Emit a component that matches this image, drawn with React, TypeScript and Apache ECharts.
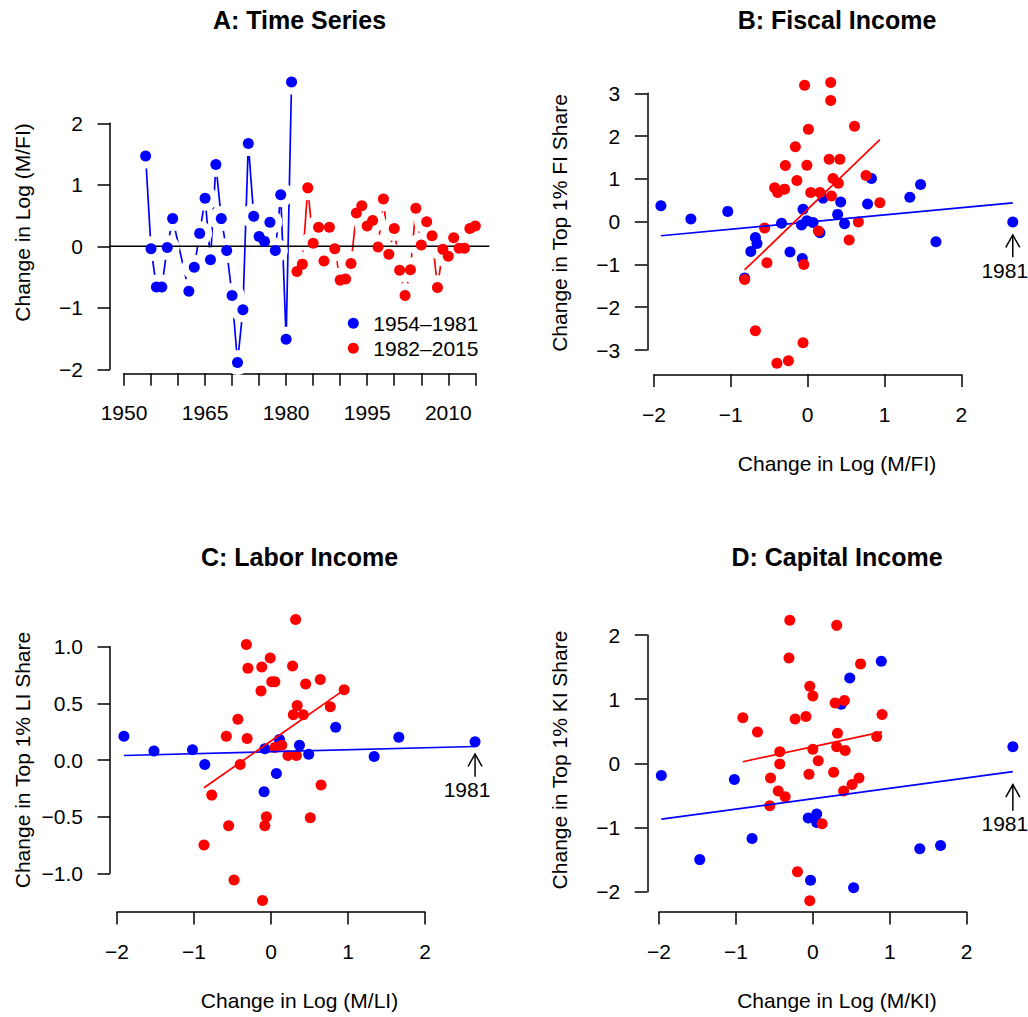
import React, { useEffect, useRef } from "react";
import * as echarts from "echarts";

const FONT = "'Liberation Sans', Arial, Helvetica, sans-serif";
const BLUE = "#0000FF";
const RED = "#FF0000";

// ---------- Panel A: time series ----------
const blueYears = [1954, 1955, 1956, 1957, 1958, 1959, 1962, 1963, 1964, 1965, 1966, 1967, 1968, 1969, 1970, 1971, 1972, 1973, 1974, 1975, 1976, 1977, 1978, 1979, 1980, 1981];
const blueA = [1.47, -0.04, -0.66, -0.66, -0.02, 0.45, -0.73, -0.34, 0.21, 0.78, -0.22, 1.33, 0.45, -0.07, -0.80, -1.89, -1.03, 1.67, 0.49, 0.16, 0.08, 0.39, -0.07, 0.84, -1.51, 2.67];
const redYears = [1982, 1983, 1984, 1985, 1986, 1987, 1988, 1989, 1990, 1991, 1992, 1993, 1994, 1995, 1996, 1997, 1998, 1999, 2000, 2001, 2002, 2003, 2004, 2005, 2006, 2007, 2008, 2009, 2010, 2011, 2012, 2013, 2014, 2015];
const redA = [-0.41, -0.29, 0.95, 0.05, 0.31, -0.24, 0.31, -0.04, -0.55, -0.53, -0.28, 0.54, 0.66, 0.33, 0.42, -0.01, 0.77, -0.13, 0.29, -0.39, -0.80, -0.38, 0.62, 0.02, 0.40, 0.17, -0.67, -0.05, -0.16, 0.14, -0.03, -0.03, 0.29, 0.33];
const usrAx = [1947.4, 2017.6];

// ---------- Panel B: fiscal income ----------
const blueBx = [-1.91, -1.52, -1.04, -0.68, -0.66, -0.74, -0.82, -0.34, -0.23, -0.07, -0.06, -0.08, -0.01, 0.07, 0.16, 0.20, 0.43, 0.39, 0.48, 0.83, 0.78, 1.33, 1.47, 1.67, 2.67];
const blueBy = [0.37, 0.06, 0.24, -0.37, -0.51, -0.70, -1.32, -0.04, -0.71, -0.86, 0.29, -0.08, 0.02, -0.02, -0.26, 0.55, 0.46, 0.17, -0.05, 1.01, 0.41, 0.57, 0.87, -0.47, -0.01];
const redBx = [-0.04, 0.30, 0.30, 0.01, -0.16, -0.29, -0.01, 0.28, 0.42, -0.14, -0.43, -0.39, -0.30, 0.04, 0.16, 0.33, 0.31, -0.56, 0.14, -0.53, -0.05, -0.82, -0.68, -0.06, -0.40, -0.25, 0.61, 0.40, 0.76, 0.94, 0.66, 0.54];
const redBy = [3.19, 3.25, 2.83, 2.16, 1.75, 1.31, 1.32, 1.46, 1.46, 0.96, 0.79, 0.68, 0.76, 0.68, 0.68, 1.01, 0.60, -0.15, -0.22, -0.96, -1.00, -1.35, -2.55, -2.83, -3.31, -3.25, 2.23, 0.90, 1.08, 0.44, -0.01, -0.43];
const fitBblue = [-0.009, 0.168];
const fitBred = [0.289, 1.73];
const annoB = [2.67, -0.31, -0.83];

// ---------- Panel C: labor income ----------
const blueCx = [-1.91, -1.52, -1.02, -0.86, -0.09, 0.07, 0.11, -0.08, 0.37, 0.49, 0.84, 1.34, 1.66, 2.65];
const blueCy = [0.21, 0.08, 0.09, -0.04, -0.28, -0.12, 0.18, 0.10, 0.13, 0.05, 0.29, 0.03, 0.20, 0.16];
const redCx = [0.32, -0.32, -0.01, -0.30, -0.12, 0.28, 0.01, 0.05, -0.13, 0.34, 0.29, 0.42, -0.43, -0.58, -0.31, 0.05, 0.14, 0.22, 0.33, -0.40, -0.77, -0.06, -0.08, -0.55, -0.87, -0.48, -0.11, 0.45, 0.64, 0.95, 0.77, 0.65, 0.51];
const redCy = [1.24, 1.02, 0.90, 0.81, 0.82, 0.83, 0.69, 0.69, 0.61, 0.48, 0.40, 0.40, 0.36, 0.21, 0.19, 0.11, 0.13, 0.04, 0.04, -0.04, -0.31, -0.50, -0.58, -0.58, -0.75, -1.06, -1.24, 0.67, 0.71, 0.62, 0.47, -0.22, -0.51];
const fitCblue = [0.073, 0.0175];
const fitCred = [0.168, 0.475];
const annoC = [2.65, 0.053, -0.147];

// ---------- Panel D: capital income ----------
const blueDx = [-1.97, -1.02, -0.79, -1.47, -0.06, 0.05, 0.05, -0.03, 0.37, 0.89, 0.48, 2.60, 1.39, 1.66, 0.53];
const blueDy = [-0.19, -0.25, -1.17, -1.50, -0.85, -0.79, -0.92, -1.82, 0.92, 1.59, 1.33, 0.26, -1.33, -1.28, -1.94];
const redDx = [-0.30, 0.31, -0.31, -0.04, 0.00, -0.91, -0.72, -0.23, -0.09, 0.29, 0.41, -0.43, -0.43, 0.00, 0.07, -0.05, 0.27, 0.32, 0.31, 0.42, -0.55, -0.45, -0.36, -0.56, 0.12, -0.20, -0.04, 0.62, 0.90, 0.83, 0.60, 0.51, 0.40];
const redDy = [2.23, 2.15, 1.64, 1.20, 1.05, 0.71, 0.49, 0.69, 0.73, 0.94, 0.98, 0.18, -0.01, 0.22, 0.04, -0.17, -0.14, 0.47, 0.26, 0.20, -0.23, -0.43, -0.52, -0.66, -0.94, -1.69, -2.14, 1.55, 0.76, 0.42, -0.23, -0.33, -0.43];
const fitDblue = [-0.551, 0.162];
const fitDred = [0.259, 0.257];
const annoD = [2.60, -0.33, -0.74];

const annoLabel = "1981";
const legendNames = ["1954\u20131981", "1982\u20132015"];

const pairs = (xs: number[], ys: number[]) => xs.map((x, i) => [x, ys[i]]);
const fitSeg = (xs: number[], c: number[]) => {
  const lo = Math.min(...xs);
  const hi = Math.max(...xs);
  return [lo, c[0] + c[1] * lo, hi, c[0] + c[1] * hi];
};
const minus = (s: string) => s.replace("-", "\u2212");

function buildOption() {
  const axisBase = {
    type: "value",
    axisLine: { show: true, onZero: false, lineStyle: { color: "#000", width: 1.5 } },
    axisTick: { show: true, length: 12.5, lineStyle: { color: "#000", width: 1.5 } },
    splitLine: { show: false },
  };
  const xLab = (fmt: (v: number) => string) => ({ color: "#000", fontSize: 21, fontFamily: FONT, margin: 29, formatter: fmt });
  const yLab = (fmt: (v: number) => string) => ({ color: "#000", fontSize: 21, fontFamily: FONT, margin: 27, formatter: fmt });
  const intFmt = (v: number) => minus(String(v));
  const decFmt = (v: number) => minus(v.toFixed(1));
  const yearFmt = (v: number) => ((v - 1950) % 15 === 0 ? String(v) : "");

  const grids = [
    { left: 124, top: 123.3, width: 351.3, height: 246 },
    { left: 654, top: 93.3, width: 307.3, height: 256.7 },
    { left: 117, top: 646.7, width: 308, height: 226.6 },
    { left: 659, top: 635, width: 307.7, height: 256.7 },
  ];
  const xAxes = [
    { ...axisBase, gridIndex: 0, min: 1950, max: 2015, interval: 5, offset: 4, axisLabel: xLab(yearFmt) },
    { ...axisBase, gridIndex: 1, min: -2, max: 2, interval: 1, offset: 24.5, axisLabel: xLab(intFmt) },
    { ...axisBase, gridIndex: 2, min: -2, max: 2, interval: 1, offset: 38.7, axisLabel: xLab(intFmt) },
    { ...axisBase, gridIndex: 3, min: -2, max: 2, interval: 1, offset: 20.3, axisLabel: xLab(intFmt) },
  ];
  const yAxes = [
    { ...axisBase, gridIndex: 0, min: -2, max: 2, interval: 1, offset: 14, axisLabel: yLab(intFmt) },
    { ...axisBase, gridIndex: 1, min: -3, max: 3, interval: 1, offset: 6.7, axisLabel: yLab(intFmt) },
    { ...axisBase, gridIndex: 2, min: -1, max: 1, interval: 0.5, offset: 7, axisLabel: yLab(decFmt) },
    { ...axisBase, gridIndex: 3, min: -2, max: 2, interval: 1, offset: 11.7, axisLabel: yLab(intFmt) },
  ];

  const series: any[] = [];
  const ax = (i: number) => ({ xAxisIndex: i, yAxisIndex: i });

  // straight segment drawn through the axes' scales (not clipped at the grid)
  const segSeries = (i: number, seg: number[], color: string, width: number, z: number) => ({
    type: "custom", ...ax(i), data: [seg], clip: false, silent: true, z,
    renderItem: (_p: any, api: any) => {
      const a = api.coord([api.value(0), api.value(1)]);
      const b = api.coord([api.value(2), api.value(3)]);
      return { type: "line", shape: { x1: a[0], y1: a[1], x2: b[0], y2: b[1] }, style: { stroke: color, lineWidth: width } };
    },
  });

  // Panel A
  const blueAData = blueYears.map((y, i) => [y, blueA[i]]);
  const redAData = redYears.map((y, i) => [y, redA[i]]);
  series.push({ type: "line", ...ax(0), data: redAData, symbol: "none", clip: false, silent: true, z: 1, lineStyle: { color: RED, width: 1.7 } });
  series.push({ type: "scatter", ...ax(0), data: redAData, symbolSize: 25, clip: false, silent: true, z: 2, itemStyle: { color: "#fff", opacity: 1 } });
  series.push({ type: "line", ...ax(0), data: blueAData, symbol: "none", clip: false, silent: true, z: 3, lineStyle: { color: BLUE, width: 1.7 } });
  series.push({ type: "scatter", ...ax(0), data: blueAData, symbolSize: 25, clip: false, silent: true, z: 4, itemStyle: { color: "#fff", opacity: 1 } });
  series.push(segSeries(0, [usrAx[0], 0, usrAx[1], 0], "#000", 1.5, 5));
  series.push({ type: "scatter", name: legendNames[0], ...ax(0), data: blueAData, symbolSize: 11, clip: false, z: 6, itemStyle: { color: BLUE, opacity: 1 } });
  series.push({ type: "scatter", name: legendNames[1], ...ax(0), data: redAData, symbolSize: 11, clip: false, z: 6, itemStyle: { color: RED, opacity: 1 } });

  const scatterPanel = (i: number, bx: number[], by: number[], rx: number[], ry: number[], fb: number[], fr: number[], anno: number[]) => {
    series.push({ type: "scatter", name: "blue" + i, ...ax(i), data: pairs(bx, by), symbolSize: 11, clip: false, z: 2, itemStyle: { color: BLUE, opacity: 1 } });
    series.push({ type: "scatter", name: "red" + i, ...ax(i), data: pairs(rx, ry), symbolSize: 11, clip: false, z: 3, itemStyle: { color: RED, opacity: 1 } });
    series.push(segSeries(i, fitSeg(bx, fb), BLUE, 1.7, 4));
    series.push(segSeries(i, fitSeg(rx, fr), RED, 1.7, 4));
    series.push({
      type: "custom", ...ax(i), data: [anno], clip: false, silent: true, z: 5,
      renderItem: (_p: any, api: any) => {
        const tip = api.coord([api.value(0), api.value(1)]);
        const tail = api.coord([api.value(0), api.value(2)]);
        return {
          type: "group",
          children: [
            { type: "line", shape: { x1: tip[0], y1: tip[1], x2: tail[0], y2: tail[1] }, style: { stroke: "#000", lineWidth: 1.5 } },
            { type: "polyline", shape: { points: [[tip[0] - 7, tip[1] + 12.5], [tip[0], tip[1]], [tip[0] + 7, tip[1] + 12.5]] }, style: { stroke: "#000", fill: "none", lineWidth: 1.5 } },
            { type: "text", x: tail[0] - 8, y: tail[1] + 13, style: { text: annoLabel, fill: "#000", font: "21px " + FONT, align: "center", verticalAlign: "middle", textAlign: "center", textVerticalAlign: "middle" } },
          ],
        };
      },
    });
  };
  scatterPanel(1, blueBx, blueBy, redBx, redBy, fitBblue, fitBred, annoB);
  scatterPanel(2, blueCx, blueCy, redCx, redCy, fitCblue, fitCred, annoC);
  scatterPanel(3, blueDx, blueDy, redDx, redDy, fitDblue, fitDred, annoD);

  const txt = (text: string, x: number, y: number, opts: any = {}) => ({
    type: "text", x, y, rotation: opts.rot || 0, silent: true,
    style: { text, fill: "#000", font: (opts.bold ? "bold " : "") + (opts.size || 21) + "px " + FONT, align: "center", verticalAlign: "middle", textAlign: "center", textVerticalAlign: "middle" },
  });
  const V = Math.PI / 2;
  const graphic = [
    txt("A: Time Series", 299.5, 19.5, { bold: true, size: 25 }),
    txt("B: Fiscal Income", 837, 19.5, { bold: true, size: 25 }),
    txt("C: Labor Income", 299.5, 556.5, { bold: true, size: 25 }),
    txt("D: Capital Income", 837, 556.5, { bold: true, size: 25 }),
    txt("Change in Log (M/FI)", 22, 222.5, { rot: V }),
    txt("Change in Top 1% FI Share", 559, 223, { rot: V }),
    txt("Change in Top 1% LI Share", 22, 760, { rot: V }),
    txt("Change in Top 1% KI Share", 559, 760, { rot: V }),
    txt("Change in Log (M/FI)", 837, 463),
    txt("Change in Log (M/LI)", 299.5, 1000),
    txt("Change in Log (M/KI)", 837, 1000),
  ];

  return {
    animation: false,
    backgroundColor: "#fff",
    textStyle: { fontFamily: FONT },
    grid: grids,
    xAxis: xAxes,
    yAxis: yAxes,
    legend: {
      data: legendNames,
      orient: "vertical",
      left: 347.8,
      top: 312.8,
      padding: 0,
      itemWidth: 11,
      itemHeight: 11,
      itemGap: 4,
      icon: "circle",
      selectedMode: false,
      itemStyle: { opacity: 1 },
      textStyle: { fontSize: 21, color: "#000", fontFamily: FONT, padding: [0, 0, 0, 9.5] },
    },
    graphic,
    series,
  };
}

export default function App() {
  const ref = useRef<HTMLDivElement>(null);
  useEffect(() => {
    if (!ref.current) return;
    const chart = echarts.init(ref.current, undefined, { renderer: "svg" });
    chart.setOption(buildOption() as any);
    return () => chart.dispose();
  }, []);
  return <div ref={ref} style={{ position: "fixed", left: 0, top: 0, width: 1028, height: 1017, background: "#fff" }} />;
}
